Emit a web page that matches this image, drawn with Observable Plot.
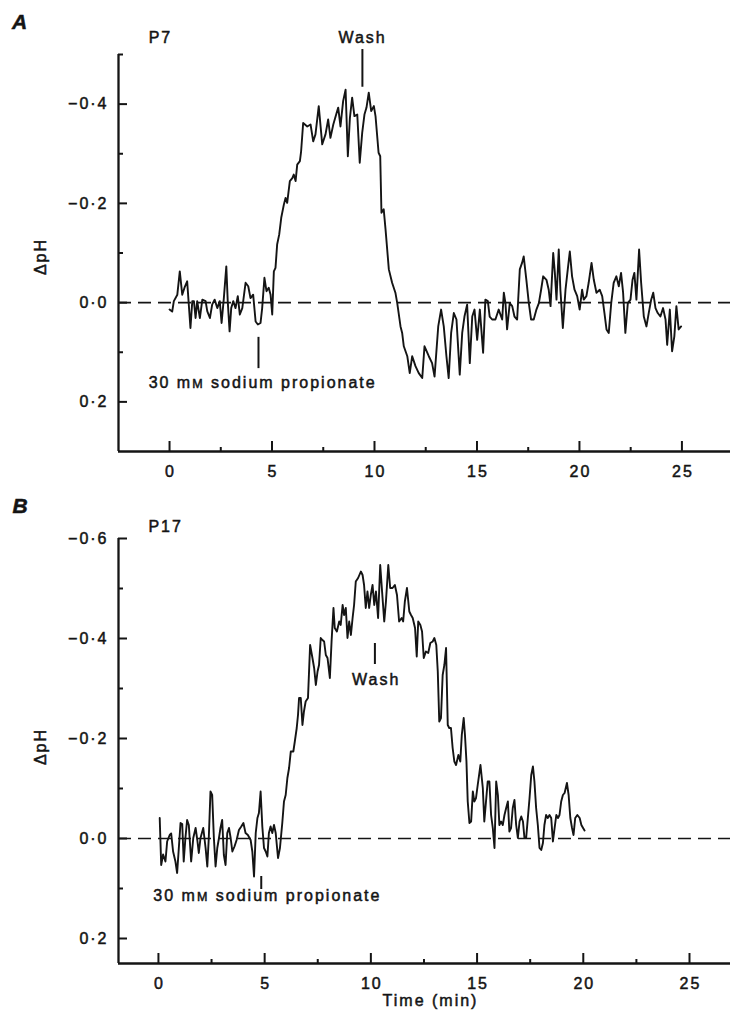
<!DOCTYPE html>
<html><head><meta charset="utf-8">
<script src="https://cdn.jsdelivr.net/npm/d3@7"></script>
<script src="https://cdn.jsdelivr.net/npm/@observablehq/plot@0.6"></script>
<style>
body{margin:0;background:#fff;}
#chart{width:730px;}
#chart svg{display:block;}
#chart svg text{stroke:#141414;stroke-width:0.5px;}
</style></head><body><div id="chart"></div>
<script>
// ---- Panel A (P7): time (min) and ΔpH ----
const tA = [0.00,0.13,0.21,0.38,0.50,0.62,0.73,0.86,0.94,1.02,
1.11,1.19,1.27,1.35,1.48,1.60,1.76,1.84,1.97,2.08,
2.20,2.33,2.45,2.54,2.65,2.77,2.84,2.93,3.01,3.11,
3.22,3.33,3.43,3.55,3.71,3.84,3.95,4.08,4.20,4.31,
4.44,4.52,4.63,4.73,4.84,4.93,5.01,5.09,5.17,5.25,
5.35,5.45,5.58,5.66,5.74,5.87,5.99,6.06,6.15,6.23,
6.36,6.42,6.52,6.72,6.88,7.01,7.12,7.28,7.45,7.61,
7.74,7.85,7.99,8.13,8.23,8.34,8.47,8.59,8.70,8.80,
8.91,9.02,9.16,9.28,9.40,9.51,9.61,9.72,9.84,9.97,
10.05,10.20,10.28,10.34,10.45,10.54,10.62,10.70,10.86,11.02,
11.11,11.27,11.35,11.43,11.60,11.72,11.84,12.00,12.16,12.33,
12.44,12.65,12.81,12.93,13.11,13.25,13.38,13.51,13.62,13.74,
13.87,14.00,14.16,14.28,14.39,14.52,14.65,14.77,14.88,15.01,
15.14,15.30,15.41,15.53,15.62,15.74,15.90,16.06,16.23,16.31,
16.39,16.47,16.60,16.72,16.83,16.96,17.09,17.20,17.28,17.41,
17.53,17.64,17.77,17.90,18.02,18.13,18.23,18.39,18.50,18.59,
18.72,18.80,18.88,18.99,19.07,19.19,19.32,19.43,19.53,19.64,
19.76,19.89,20.01,20.13,20.21,20.34,20.45,20.59,20.70,20.83,
20.99,21.11,21.22,21.32,21.43,21.55,21.67,21.80,21.92,22.03,
22.13,22.24,22.36,22.49,22.59,22.68,22.78,22.91,23.01,23.14,
23.27,23.38,23.50,23.60,23.71,23.82,23.95,24.08,24.20,24.28,
24.41,24.52,24.63,24.73,24.84,24.96];
const vA = [0.014,0.018,-0.003,-0.016,-0.063,-0.016,-0.030,-0.043,0.004,0.051,
-0.003,-0.003,0.031,-0.003,0.031,-0.006,-0.003,0.017,0.031,0.004,
-0.006,0.011,-0.003,0.041,-0.009,-0.073,-0.003,0.058,0.011,-0.003,
0.011,-0.013,0.024,0.011,-0.040,-0.033,-0.009,-0.016,0.038,0.044,
0.041,0.011,-0.050,-0.023,-0.030,-0.016,0.024,-0.063,-0.070,-0.117,
-0.137,-0.171,-0.198,-0.211,-0.201,-0.245,-0.251,-0.258,-0.245,-0.278,
-0.285,-0.305,-0.362,-0.355,-0.359,-0.325,-0.339,-0.396,-0.319,-0.339,
-0.369,-0.332,-0.359,-0.379,-0.393,-0.355,-0.406,-0.429,-0.295,-0.372,
-0.413,-0.376,-0.379,-0.282,-0.342,-0.379,-0.393,-0.423,-0.386,-0.396,
-0.376,-0.302,-0.295,-0.181,-0.188,-0.147,-0.107,-0.067,-0.040,-0.020,
0.001,0.048,0.061,0.088,0.108,0.142,0.108,0.128,0.142,0.152,
0.088,0.108,0.122,0.149,0.048,0.014,0.048,0.108,0.152,0.061,
0.021,0.034,0.145,0.061,0.028,0.004,0.122,0.028,0.014,0.075,
0.014,0.101,-0.006,-0.003,0.028,0.034,0.034,0.014,0.034,-0.020,
0.001,0.054,0.001,0.007,0.028,0.034,-0.067,-0.080,-0.093,-0.046,
0.001,0.034,0.034,0.014,0.001,-0.026,-0.053,-0.046,-0.026,0.007,
-0.100,-0.060,-0.006,-0.107,-0.026,0.051,-0.026,-0.067,-0.103,-0.053,
-0.026,-0.013,0.014,-0.026,-0.006,-0.013,-0.040,-0.080,-0.046,-0.020,
-0.026,-0.013,0.021,0.054,0.061,0.001,-0.040,-0.053,-0.033,-0.060,
-0.020,0.061,0.001,-0.006,-0.046,-0.060,-0.006,-0.107,-0.040,0.028,
0.048,0.021,-0.006,-0.020,0.011,0.021,0.028,0.011,0.034,0.085,
0.014,0.098,0.068,0.007,0.054,0.048];

// ---- Panel B (P17) ----
const tB = [0.06,0.13,0.22,0.33,0.41,0.53,0.60,0.69,0.80,0.88,
0.96,1.04,1.12,1.19,1.27,1.35,1.43,1.54,1.64,1.75,
1.83,1.90,1.98,2.11,2.22,2.30,2.37,2.45,2.53,2.61,
2.69,2.77,2.85,2.92,3.00,3.08,3.16,3.24,3.32,3.40,
3.48,3.58,3.68,3.79,3.90,4.00,4.10,4.21,4.34,4.42,
4.50,4.58,4.66,4.73,4.81,4.89,4.97,5.05,5.13,5.20,
5.28,5.36,5.44,5.52,5.63,5.72,5.83,5.91,5.99,6.07,
6.15,6.23,6.35,6.42,6.51,6.57,6.62,6.70,6.78,6.85,
6.93,7.04,7.14,7.25,7.33,7.41,7.49,7.56,7.64,7.72,
7.80,7.88,7.96,8.07,8.15,8.24,8.30,8.40,8.51,8.58,
8.67,8.74,8.82,8.90,8.98,9.06,9.14,9.21,9.29,9.40,
9.53,9.61,9.68,9.76,9.84,9.92,10.00,10.08,10.16,10.24,
10.34,10.44,10.55,10.63,10.71,10.82,10.91,11.02,11.13,11.23,
11.33,11.45,11.52,11.60,11.70,11.81,11.89,11.97,12.08,12.16,
12.23,12.33,12.41,12.49,12.59,12.70,12.80,12.91,12.99,13.08,
13.15,13.22,13.30,13.38,13.46,13.54,13.62,13.69,13.77,13.85,
13.93,14.01,14.12,14.21,14.28,14.37,14.43,14.50,14.56,14.64,
14.72,14.80,14.87,14.95,15.03,15.16,15.27,15.34,15.42,15.50,
15.58,15.66,15.74,15.82,15.90,15.98,16.05,16.13,16.21,16.29,
16.37,16.45,16.52,16.60,16.68,16.76,16.84,16.92,17.00,17.08,
17.16,17.23,17.31,17.39,17.47,17.55,17.63,17.70,17.78,17.86,
17.94,18.02,18.10,18.17,18.25,18.33,18.41,18.49,18.57,18.65,
18.73,18.81,18.88,18.96,19.04,19.12,19.23,19.31,19.39,19.47,
19.54,19.62,19.72,19.83,19.91,19.99,20.06];
const vB = [-0.041,0.053,0.032,0.046,0.006,-0.007,-0.010,0.026,0.046,0.069,
0.019,-0.031,-0.029,0.046,-0.001,-0.037,-0.027,0.046,-0.001,-0.021,
0.003,0.029,-0.001,-0.021,0.019,0.056,-0.001,-0.094,-0.087,-0.001,
0.056,0.019,-0.001,-0.021,-0.037,0.033,0.053,-0.011,-0.021,-0.001,
0.026,0.016,0.003,-0.017,-0.024,-0.031,-0.011,-0.007,0.003,0.026,
0.076,-0.011,-0.041,-0.051,-0.094,-0.024,0.019,0.026,0.036,-0.011,
-0.024,-0.011,-0.027,-0.011,0.039,0.019,-0.031,-0.074,-0.087,-0.121,
-0.141,-0.174,-0.174,-0.194,-0.221,-0.247,-0.281,-0.281,-0.227,-0.254,
-0.274,-0.281,-0.387,-0.361,-0.341,-0.307,-0.334,-0.347,-0.401,-0.397,
-0.394,-0.367,-0.361,-0.321,-0.394,-0.461,-0.421,-0.414,-0.434,-0.427,
-0.467,-0.447,-0.461,-0.401,-0.434,-0.407,-0.441,-0.467,-0.514,-0.521,
-0.534,-0.527,-0.507,-0.461,-0.494,-0.461,-0.488,-0.507,-0.467,-0.494,
-0.441,-0.547,-0.481,-0.434,-0.474,-0.547,-0.501,-0.501,-0.507,-0.487,
-0.434,-0.441,-0.434,-0.474,-0.501,-0.454,-0.447,-0.441,-0.421,-0.364,
-0.434,-0.427,-0.414,-0.361,-0.374,-0.371,-0.391,-0.394,-0.401,-0.387,
-0.334,-0.234,-0.241,-0.327,-0.347,-0.381,-0.227,-0.221,-0.221,-0.181,
-0.154,-0.147,-0.167,-0.154,-0.207,-0.241,-0.207,-0.154,-0.074,-0.031,
-0.034,-0.094,-0.074,-0.081,-0.107,-0.147,-0.101,-0.034,-0.074,-0.114,
-0.114,-0.047,-0.021,0.019,-0.114,-0.087,-0.027,-0.034,-0.027,-0.047,
-0.061,-0.074,-0.014,-0.021,-0.061,-0.077,-0.027,-0.001,-0.034,-0.044,
-0.034,-0.001,-0.001,-0.041,-0.081,-0.127,-0.144,-0.114,-0.061,-0.027,
0.019,0.023,0.009,-0.027,-0.047,-0.041,-0.047,-0.041,0.006,-0.021,
-0.047,-0.041,-0.047,-0.074,-0.087,-0.091,-0.111,-0.087,-0.041,-0.021,
-0.007,-0.041,-0.047,-0.041,-0.027,-0.021,-0.016];

// ---- Axis ticks ----
const xTicks = [0, 5, 10, 15, 20, 25];
const xMinor = [2.5, 7.5, 12.5, 17.5, 22.5];
const yTicksA = [-0.4, -0.2, 0, 0.2];
const yMinorA = [-0.5, -0.3, -0.1, 0.1];
const yTicksB = [-0.6, -0.4, -0.2, 0, 0.2];
const yMinorB = [-0.5, -0.3, -0.1, 0.1];

// ---- Annotations (time, ΔpH) ----
const labelsA = [
  {t: -1.02, v: -0.534, text: "P7", anchor: "start"},
  {t: 9.42, v: -0.534, text: "Wash", anchor: "middle"},
  {t: -1.02, v: 0.161, text: "30 mM sodium propionate", anchor: "start"}
];
const markersA = [{t: 9.41, v1: -0.51, v2: -0.434}, {t: 4.34, v1: 0.07, v2: 0.133}];
const labelsB = [
  {t: -0.47, v: -0.624, text: "P17", anchor: "start"},
  {t: 10.25, v: -0.318, text: "Wash", anchor: "middle"},
  {t: -0.24, v: 0.114, text: "30 mM sodium propionate", anchor: "start"}
];
const markersB = [{t: 10.19, v1: -0.39, v2: -0.348}, {t: 4.84, v1: 0.076, v2: 0.102}];

const fmt = d => (d < -1e-9 ? "\u2212" : "") + Math.abs(d).toFixed(1).replace(".", "\u00b7");
const INK = "#141414";

function panel(cfg) {
  const W = 730, ML = 118;
  const pw = W - ML, ph = cfg.height - cfg.marginTop - cfg.marginBottom;
  const n = Math.min(cfg.t.length, cfg.v.length);
  const data = d3.range(n).map(i => ({t: cfg.t[i], v: cfg.v[i]}));
  const marks = [
    Plot.ruleY([0], {stroke: INK, strokeWidth: 1.7, strokeDasharray: "13,7"}),
    Plot.ruleX([cfg.xDomain[0]], {stroke: INK, strokeWidth: 2.3}),
    Plot.ruleY([cfg.yDomain[0]], {stroke: INK, strokeWidth: 2.3}),
    Plot.tickY(cfg.yTicks, {y: d => d, insetRight: pw - 9, stroke: INK, strokeWidth: 2}),
    Plot.tickY(cfg.yMinor, {y: d => d, insetRight: pw - 5, stroke: INK, strokeWidth: 2}),
    Plot.tickX(xTicks, {x: d => d, insetTop: ph - 10, stroke: INK, strokeWidth: 2}),
    Plot.tickX(xMinor, {x: d => d, insetTop: ph - 4, stroke: INK, strokeWidth: 2}),
    Plot.axisY(cfg.yTicks, {tickSize: 0, tickPadding: 10, tickFormat: fmt, label: null, fill: INK}),
    Plot.axisX(xTicks, {tickSize: 0, tickPadding: 14, label: null, fill: INK, dx: 1}),
    Plot.line(data, {x: "t", y: "v", stroke: INK, strokeWidth: 1.9, strokeLinejoin: "round"}),
    Plot.ruleX(cfg.markers, {x: "t", y1: "v1", y2: "v2", stroke: INK, strokeWidth: 2}),
    Plot.text(cfg.labels.filter(d => d.anchor === "start"), {x: "t", y: "v", text: "text", textAnchor: "start", lineAnchor: "middle", fill: INK}),
    Plot.text(cfg.labels.filter(d => d.anchor === "middle"), {x: "t", y: "v", text: "text", textAnchor: "middle", lineAnchor: "middle", fill: INK}),
    Plot.text([cfg.letter], {frameAnchor: "top-left", dx: cfg.letterDx, dy: cfg.letterDy, textAnchor: "middle", lineAnchor: "middle", fontWeight: "bold", fontStyle: "italic", fontSize: 21, fill: INK}),
    Plot.text(["\u0394pH"], {frameAnchor: "left", dx: -78, dy: cfg.ylabelDy, rotate: -90, textAnchor: "middle", lineAnchor: "middle", fill: INK})
  ];
  if (cfg.xlabel) marks.push(Plot.text([cfg.xlabel], {frameAnchor: "bottom", dx: 6, dy: 37, textAnchor: "middle", lineAnchor: "middle", fill: INK}));
  const svg = Plot.plot({
    width: W, height: cfg.height,
    marginLeft: ML, marginRight: 0, marginTop: cfg.marginTop, marginBottom: cfg.marginBottom,
    x: {domain: cfg.xDomain, label: null},
    y: {domain: cfg.yDomain, label: null},
    style: {fontFamily: "'Liberation Sans', Arial, Helvetica, sans-serif", fontSize: "16px", letterSpacing: "2px", background: "#fff", color: INK, overflow: "visible"},
    marks
  });
  // small-capital M in "mM"
  svg.querySelectorAll("text").forEach(el => {
    if (el.textContent === "30 mM sodium propionate") {
      el.textContent = "";
      const ns = "http://www.w3.org/2000/svg";
      const a = document.createElementNS(ns, "tspan"); a.textContent = "30 m";
      const b = document.createElementNS(ns, "tspan"); b.textContent = "M"; b.setAttribute("font-size", "12.5px");
      const c = document.createElementNS(ns, "tspan"); c.textContent = " sodium propionate";
      el.append(a, b, c);
    }
  });
  return svg;
}

const root = document.getElementById("chart");
root.append(panel({
  t: tA, v: vA, height: 490, marginTop: 54, marginBottom: 39,
  xDomain: [-2.49, 27.37], yDomain: [0.3, -0.5],
  yTicks: yTicksA, yMinor: yMinorA, labels: labelsA, markers: markersA,
  letter: "A", letterDx: -98, letterDy: -32.5, ylabelDy: 3.5
}));
root.append(panel({
  t: tB, v: vB, height: 531, marginTop: 48, marginBottom: 58,
  xDomain: [-1.88, 26.93], yDomain: [0.25, -0.6],
  yTicks: yTicksB, yMinor: yMinorB, labels: labelsB, markers: markersB,
  letter: "B", letterDx: -97.5, letterDy: -32, ylabelDy: -4.5, xlabel: "Time (min)"
}));
</script></body></html>
